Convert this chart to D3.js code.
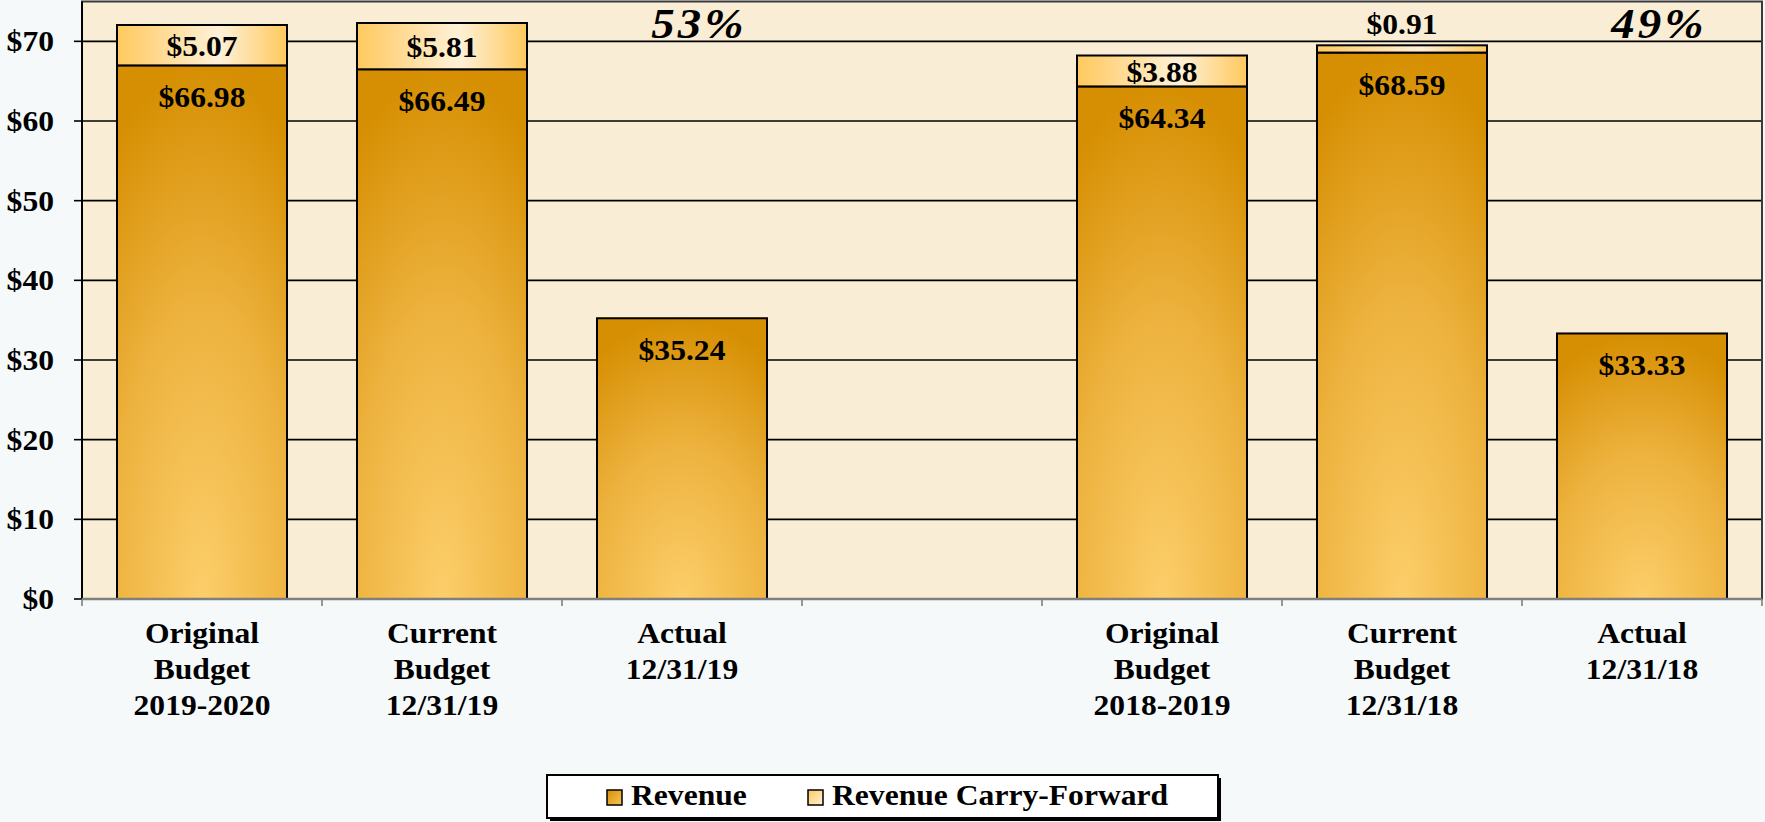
<!DOCTYPE html>
<html>
<head>
<meta charset="utf-8">
<script src="https://cdn.jsdelivr.net/npm/d3@7"></script>
<style>
  html, body { margin: 0; padding: 0; background: #F5F9FA; }
  svg { display: block; }
  text { font-family: "Liberation Serif", "Times New Roman", serif; font-weight: bold; fill: #000; }
</style>
</head>
<body>
<script>
// ---------- data ----------
const categoryLines = [
  ["Original", "Budget", "2019-2020"],
  ["Current", "Budget", "12/31/19"],
  ["Actual", "12/31/19"],
  [],
  ["Original", "Budget", "2018-2019"],
  ["Current", "Budget", "12/31/18"],
  ["Actual", "12/31/18"]
];
const revenue       = [66.98, 66.49, 35.24, null, 64.34, 68.59, 33.33];
const carryForward  = [5.07, 5.81, 0, null, 3.88, 0.91, 0];
const percentIndex  = [2, 6];
const percentLabels = ["53%", "49%"];
const yTicks        = [0, 10, 20, 30, 40, 50, 60, 70];
const seriesNames   = ["Revenue", "Revenue Carry-Forward"];

// ---------- layout ----------
const W = 1765, H = 822;
const plot = { left: 82, right: 1762, top: 1.5, bottom: 599 };
const SX = 1.09; // horizontal text stretch of the original

const svg = d3.select("body").append("svg").attr("width", W).attr("height", H);
const defs = svg.append("defs");

// gradients
const gRev = defs.append("radialGradient").attr("id", "gRev")
  .attr("cx", "50%").attr("cy", "100%").attr("r", "100%").attr("fx", "50%").attr("fy", "100%");
gRev.append("stop").attr("offset", "0%").attr("stop-color", "#FCCE6A");
gRev.append("stop").attr("offset", "55%").attr("stop-color", "#EDB23E");
gRev.append("stop").attr("offset", "100%").attr("stop-color", "#D68F02");

const gCF = defs.append("linearGradient").attr("id", "gCF")
  .attr("x1", "0%").attr("x2", "100%").attr("y1", "0%").attr("y2", "0%");
gCF.append("stop").attr("offset", "0%").attr("stop-color", "#FFC95E");
gCF.append("stop").attr("offset", "60%").attr("stop-color", "#FFF1D8");
gCF.append("stop").attr("offset", "100%").attr("stop-color", "#FFC95E");

const gRevL = defs.append("linearGradient").attr("id", "gRevL")
  .attr("x1", "0%").attr("x2", "100%").attr("y1", "0%").attr("y2", "100%");
gRevL.append("stop").attr("offset", "0%").attr("stop-color", "#D68F02");
gRevL.append("stop").attr("offset", "100%").attr("stop-color", "#F7C45A");

const gCFL = defs.append("linearGradient").attr("id", "gCFL")
  .attr("x1", "0%").attr("x2", "100%").attr("y1", "0%").attr("y2", "100%");
gCFL.append("stop").attr("offset", "0%").attr("stop-color", "#FFC95E");
gCFL.append("stop").attr("offset", "100%").attr("stop-color", "#FFF1D8");

// scales
const idx = d3.range(categoryLines.length).map(String);
const x = d3.scaleBand().domain(idx).range([plot.left, plot.right])
  .paddingInner(70 / 240).paddingOuter(35 / 240);
const y = d3.scaleLinear().domain([0, 75]).range([plot.bottom, plot.top]);

// helper for stretched text
function stext(g, tx, ty, str, size, anchor, italic) {
  return g.append("text")
    .attr("transform", `translate(${tx},${ty}) scale(${SX},1)`)
    .attr("text-anchor", anchor || "middle")
    .style("font-size", size + "px")
    .style("font-style", italic ? "italic" : "normal")
    .text(str);
}

// plot background
svg.append("rect")
  .attr("x", plot.left).attr("y", plot.top)
  .attr("width", plot.right - plot.left).attr("height", plot.bottom - plot.top)
  .attr("fill", "#FAEDD5");

// gridlines
svg.append("g").selectAll("line").data(yTicks.filter(d => d > 0)).join("line")
  .attr("x1", plot.left).attr("x2", plot.right)
  .attr("y1", d => y(d)).attr("y2", d => y(d))
  .attr("stroke", "#000").attr("stroke-width", 1.6);

// plot border
svg.append("rect")
  .attr("x", plot.left).attr("y", plot.top)
  .attr("width", plot.right - plot.left).attr("height", plot.bottom - plot.top)
  .attr("fill", "none").attr("stroke", "#3a3a3a").attr("stroke-width", 2);

// bars
const barData = revenue.map((v, i) => ({ i: String(i), rev: v, cf: carryForward[i] }))
  .filter(d => d.rev != null);

const bars = svg.append("g");
bars.selectAll("rect.rev").data(barData).join("rect").attr("class", "rev")
  .attr("x", d => x(d.i)).attr("width", x.bandwidth())
  .attr("y", d => y(d.rev)).attr("height", d => y(0) - y(d.rev))
  .attr("fill", "url(#gRev)").attr("stroke", "#000").attr("stroke-width", 2);

bars.selectAll("rect.cf").data(barData.filter(d => d.cf > 0)).join("rect").attr("class", "cf")
  .attr("x", d => x(d.i)).attr("width", x.bandwidth())
  .attr("y", d => y(d.rev + d.cf)).attr("height", d => y(d.rev) - y(d.rev + d.cf))
  .attr("fill", "url(#gCF)").attr("stroke", "#000").attr("stroke-width", 2);

// y axis
const yAxisG = svg.append("g");
yAxisG.append("line").attr("x1", plot.left).attr("x2", plot.left)
  .attr("y1", plot.top).attr("y2", plot.bottom).attr("stroke", "#000").attr("stroke-width", 2);
yAxisG.selectAll("line.t").data(yTicks).join("line").attr("class", "t")
  .attr("x1", plot.left - 8).attr("x2", plot.left)
  .attr("y1", d => y(d)).attr("y2", d => y(d))
  .attr("stroke", "#000").attr("stroke-width", 1.6);
yTicks.forEach(t => stext(yAxisG, 54, y(t) + 10, "$" + t, 29, "end"));

// x axis
const xAxisG = svg.append("g");
const bounds = idx.map(k => x(k) - x.step() * x.paddingInner() / 2).concat([plot.right]);
xAxisG.selectAll("line.t").data(bounds).join("line").attr("class", "t")
  .attr("x1", d => d).attr("x2", d => d)
  .attr("y1", plot.bottom).attr("y2", plot.bottom + 7)
  .attr("stroke", "#7f7f7f").attr("stroke-width", 1.6);
xAxisG.append("line").attr("x1", plot.left).attr("x2", plot.right)
  .attr("y1", plot.bottom).attr("y2", plot.bottom)
  .attr("stroke", "#7f7f7f").attr("stroke-width", 2.5);
categoryLines.forEach((lines, i) => {
  const cx = x(String(i)) + x.bandwidth() / 2;
  lines.forEach((ln, j) => stext(xAxisG, cx, 643 + j * 36, ln, 29, "middle"));
});

// value labels
const lab = svg.append("g");
barData.forEach(d => {
  const cx = x(d.i) + x.bandwidth() / 2;
  stext(lab, cx, y(d.rev) + 42, "$" + d.rev.toFixed(2), 29, "middle");
  if (d.cf > 0) {
    const segH = y(d.rev) - y(d.rev + d.cf);
    if (segH > 24) {
      stext(lab, cx, (y(d.rev) + y(d.rev + d.cf)) / 2 + 11, "$" + d.cf.toFixed(2), 29, "middle");
    } else {
      stext(lab, cx, y(d.rev + d.cf) - 11, "$" + d.cf.toFixed(2), 29, "middle");
    }
  }
});

// percent labels
percentIndex.forEach((pi, k) => {
  const cx = x(String(pi)) + x.bandwidth() / 2 + 17;
  stext(lab, cx, 38, percentLabels[k], 43, "middle", true).style("letter-spacing", "3px");
});

// legend
const lg = svg.append("g");
const lb = { x: 547, y: 775, w: 671, h: 43 };
lg.append("rect").attr("x", lb.x + 3).attr("y", lb.y + 3).attr("width", lb.w).attr("height", lb.h).attr("fill", "#000");
lg.append("rect").attr("x", lb.x).attr("y", lb.y).attr("width", lb.w).attr("height", lb.h)
  .attr("fill", "#fff").attr("stroke", "#000").attr("stroke-width", 2);
const legendItems = [
  { name: seriesNames[0], sx: 607, fill: "url(#gRevL)" },
  { name: seriesNames[1], sx: 808, fill: "url(#gCFL)" }
];
legendItems.forEach(it => {
  lg.append("rect").attr("x", it.sx).attr("y", 790).attr("width", 15).attr("height", 15)
    .attr("fill", it.fill).attr("stroke", "#000").attr("stroke-width", 1.5);
  stext(lg, it.sx + 24, 805, it.name, 29, "start");
});
</script>
</body>
</html>
